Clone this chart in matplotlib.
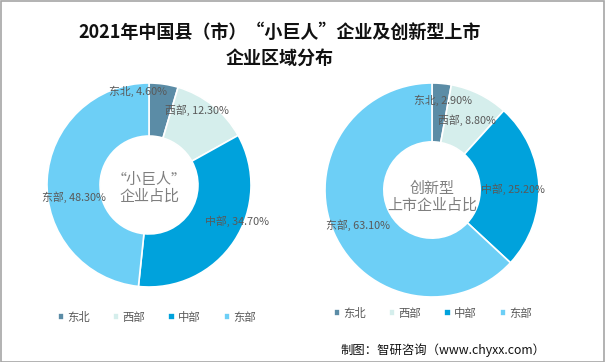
import numpy as np
import matplotlib as mpl
import matplotlib.pyplot as plt

mpl.rcParams['font.family'] = ['Noto Sans CJK SC', 'DejaVu Sans']

##data##
regions = ['东北', '西部', '中部', '东部']
giant_share = [4.6, 12.3, 34.7, 48.3]      # “小巨人”企业
listed_share = [2.9, 8.8, 25.2, 63.1]      # 创新型上市企业
colors = ['#5b8ca6', '#d5eeec', '#00a2dc', '#6dcff6']

W, H = 605, 362
fig = plt.figure(figsize=(W / 100, H / 100), dpi=100)
fig.patch.set_facecolor('white')

def px_axes(cx, cy, r):
    # axes box in pixel coords (origin top-left) holding a unit-radius pie
    return fig.add_axes([(cx - r) / W, (H - cy - r) / H, 2 * r / W, 2 * r / H])

def donut(ax, vals, inner, label_pos, center_txt, center_fs, center_dy):
    wedges, _ = ax.pie(vals, colors=colors, startangle=90, counterclock=False,
                       radius=1, wedgeprops=dict(width=1 - inner, edgecolor='white', linewidth=1.2))
    ax.set_xlim(-1, 1)
    ax.set_ylim(-1, 1)
    ax.set_axis_off()
    for name, v, (x, y) in zip(regions, vals, label_pos):
        ax.text(x, y, f'{name}, {v:.2f}%', ha='center', va='center', fontsize=7.8, color='#595959')
    ax.text(0, center_dy, center_txt, ha='center', va='center', fontsize=center_fs,
            color='#7f7f7f', linespacing=1.2)
    return wedges

ax1 = px_axes(149, 185, 102)
w1 = donut(ax1, giant_share, 0.48,
           [(-0.11, 0.92), (0.47, 0.73), (0.86, -0.35), (-0.74, -0.12)],
           '“小巨人”\n企业占比', 10.8, -0.03)

ax2 = px_axes(432, 190, 107)
w2 = donut(ax2, listed_share, 0.45,
           [(0.10, 0.84), (0.33, 0.65), (0.76, 0.01), (-0.69, -0.33)],
           '创新型\n上市企业占比', 10.8, -0.07)

# legends
for wedges, x0, y0 in [(w1, 58, 317), (w2, 334, 313)]:
    fig.legend(wedges, regions, loc='center left', bbox_to_anchor=(x0 / W, 1 - y0 / H),
               ncol=4, frameon=False, fontsize=8.2, labelcolor='#595959',
               handlelength=0.55, handleheight=0.55, handletextpad=0.25,
               columnspacing=2.05, borderpad=0, borderaxespad=0)

fig.text(280 / W, 1 - 32 / H, '2021年中国县（市）“小巨人”企业及创新型上市',
         ha='center', va='center', fontsize=13, fontweight='bold', color='#111111')
fig.text(280 / W, 1 - 58 / H, '企业区域分布',
         ha='center', va='center', fontsize=13, fontweight='bold', color='#111111')
fig.text(545 / W, 1 - 350 / H, '制图：智研咨询（www.chyxx.com）',
         ha='right', va='center', fontsize=8.9, color='#111111')

# outer border
fig.add_artist(plt.Rectangle((0.5 / W, 0.5 / H), 1 - 1.5 / W, 1 - 1.5 / H,
                             transform=fig.transFigure, fill=False,
                             edgecolor='#a6a6a6', linewidth=1.2))

fig.savefig('out.png', dpi=100)
